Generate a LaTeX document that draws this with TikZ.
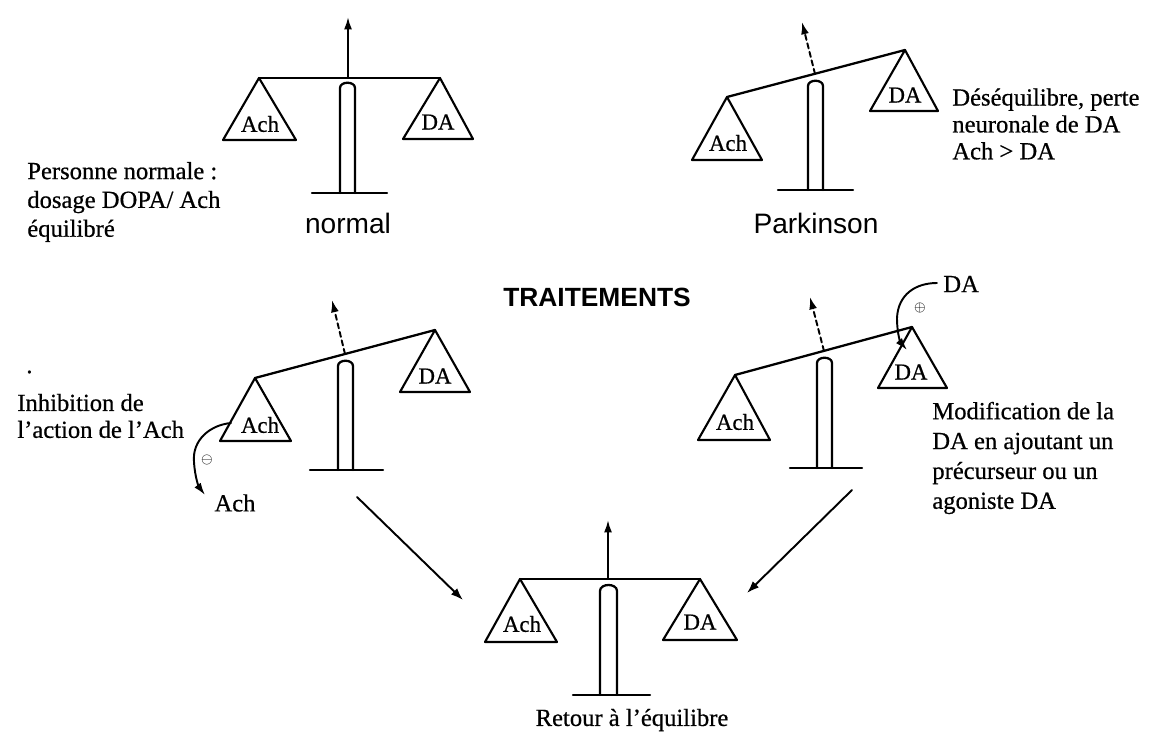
\documentclass[tikz,border=0pt]{standalone}
\usepackage{fontspec}
\setmainfont[FakeBold=0.6]{Liberation Serif}
\newfontfamily\labelsans{Liberation Sans}
\usetikzlibrary{arrows.meta}

\begin{document}
\begin{tikzpicture}[x=0.02cm,y=-0.02cm,
  line cap=round, line join=round,
  stroke/.style={line width=1.3pt},
  pan/.style={line width=1.2pt},
  needle/.style={line width=1.1pt,-{Latex[length=7pt,width=4.5pt]}},
  tiltneedle/.style={needle, dash pattern=on 3pt off 2pt},
  flow/.style={line width=1.1pt,-{Latex[length=7pt,width=5pt]}},
  pantext/.style={font=\fontsize{13}{15}\selectfont, inner sep=0pt},
  note/.style={font=\fontsize{14}{16.4}\selectfont, align=left, inner sep=0pt, anchor=west},
  caption/.style={font=\labelsans\fontsize{16}{18}\selectfont, inner sep=0pt},
  sign/.style={font=\fontsize{8}{8}\selectfont, inner sep=0pt},
]
\useasboundingbox (0,0) rectangle (1150,736);
\fill[white] (0,0) rectangle (1150,736);

% ---------- balance in equilibrium (normal) ----------
\coordinate (nL) at (259,78);
\coordinate (nR) at (440,78);
\coordinate (nP) at (348,78);
\coordinate (nT) at (348,17);
\draw[needle] (nP) -- (nT);
\draw[stroke] (nL) -- (nR);
\draw[pan] (nL) -- (223,140) -- (296,140) -- cycle;
\draw[pan] (nR) -- (403,139) -- (473,139) -- cycle;
\draw[stroke] (340,193) -- (340,88) .. controls (340,81) and (355,81) .. (355,88) -- (355,193);
\draw[stroke] (312,193) -- (387,193);
\node[pantext] (nAch) at (260,124) {Ach};
\node[pantext] (nDA) at (438,122) {DA};

% ---------- tilted balance (Parkinson) ----------
\coordinate (pL) at (727,97);
\coordinate (pR) at (905,50);
\coordinate (pP) at (815,74);
\coordinate (pT) at (802,22);
\draw[tiltneedle] (pP) -- (pT);
\draw[stroke] (pL) -- (pR);
\draw[pan] (pL) -- (692,160) -- (762,160) -- cycle;
\draw[pan] (pR) -- (870,111) -- (938,111) -- cycle;
\draw[stroke] (808,190) -- (808,86) .. controls (808,79) and (823,79) .. (823,86) -- (823,190);
\draw[stroke] (778,190) -- (853,190);
\node[pantext] (pAch) at (728,143) {Ach};
\node[pantext] (pDA) at (905,95) {DA};

% ---------- treatment 1: Ach inhibited ----------
\coordinate (cL) at (255,378);
\coordinate (cR) at (435,330);
\coordinate (cP) at (345,354);
\coordinate (cT) at (332,300);
\draw[tiltneedle] (cP) -- (cT);
\draw[stroke] (cL) -- (cR);
\draw[pan] (cL) -- (220,441) -- (291,441) -- cycle;
\draw[pan] (cR) -- (400,392) -- (470,392) -- cycle;
\draw[stroke] (338,470) -- (338,366) .. controls (338,359) and (353,359) .. (353,366) -- (353,470);
\draw[stroke] (310,470) -- (383,470);
\node[pantext] (cAch) at (260,425) {Ach};
\node[pantext] (cDA) at (435,376) {DA};

\coordinate (inhStart) at (231,423);
\coordinate (inhEnd) at (205,495);
\draw[needle] (inhStart) .. controls (210,425) and (192,440) .. (194,462)
  .. controls (195,478) and (199,487) .. (inhEnd);
\node[sign] (minusSign) at (207,460) {$\ominus$};
\node[pantext, font=\fontsize{14}{16}\selectfont] (achOut) at (235,503) {Ach};

% ---------- treatment 2: DA supplied ----------
\coordinate (dL) at (735,375);
\coordinate (dR) at (912,327);
\coordinate (dP) at (824,351);
\coordinate (dT) at (810,297);
\draw[tiltneedle] (dP) -- (dT);
\draw[stroke] (dL) -- (dR);
\draw[pan] (dL) -- (698,440) -- (770,440) -- cycle;
\draw[pan] (dR) -- (878,388) -- (947,388) -- cycle;
\draw[stroke] (817,468) -- (817,363) .. controls (817,356) and (832,356) .. (832,363) -- (832,468);
\draw[stroke] (790,468) -- (862,468);
\node[pantext] (dAch) at (735,422) {Ach};
\node[pantext] (dDA) at (911,372) {DA};

\node[note] (daIn) at (943,284) {DA};
\coordinate (addStart) at (937,283);
\coordinate (addEnd) at (907,350);
\draw[needle] (addStart) .. controls (915,283) and (898,295) .. (897,318)
  .. controls (897,335) and (901,343) .. (addEnd);
\node[sign] (plusSign) at (920,308) {$\oplus$};

% ---------- balance restored ----------
\coordinate (eL) at (520,579);
\coordinate (eR) at (700,579);
\coordinate (eP) at (608,579);
\coordinate (eT) at (608,520);
\draw[needle] (eP) -- (eT);
\draw[stroke] (eL) -- (eR);
\draw[pan] (eL) -- (485,642) -- (557,642) -- cycle;
\draw[pan] (eR) -- (663,640) -- (737,640) -- cycle;
\draw[stroke] (600,695) -- (600,591) .. controls (600,583) and (617,583) .. (617,591) -- (617,695);
\draw[stroke] (573,695) -- (650,695);
\node[pantext] (eAch) at (522,624) {Ach};
\node[pantext] (eDA) at (700,622) {DA};

% ---------- both treatments lead back to equilibrium ----------
\coordinate (fromL) at (357,497);
\coordinate (toL) at (463,600);
\coordinate (fromR) at (852,490);
\coordinate (toR) at (747,593);
\draw[flow] (fromL) -- (toL);
\draw[flow] (fromR) -- (toR);

% ---------- captions and notes ----------
\node[caption] (normCap) at (348,223) {normal};
\node[caption] (parkCap) at (816,223) {Parkinson};
\node[caption, font=\labelsans\bfseries\fontsize{15}{18}\selectfont] (treatCap) at (597,297) {TRAITEMENTS};

\node[note] (normNote) at (27,202) {Personne normale :\\dosage DOPA/ Ach\\équilibré};
\node[note, font=\fontsize{14}{15.3}\selectfont] (parkNote) at (952,124) {Déséquilibre, perte\\neuronale de DA\\Ach > DA};
\node[note, font=\fontsize{14}{15.3}\selectfont] (inhNote) at (17,416) {Inhibition de\\l’action de l’Ach};
\node[note] (strayDot) at (26,372) {.};
\node[note, font=\fontsize{14}{17}\selectfont] (treatNote) at (932,458) {Modification de la\\DA en ajoutant un\\précurseur ou un\\agoniste DA};
\node[note, anchor=center] (retour) at (632,720) {Retour à l’équilibre};
\end{tikzpicture}
\end{document}
